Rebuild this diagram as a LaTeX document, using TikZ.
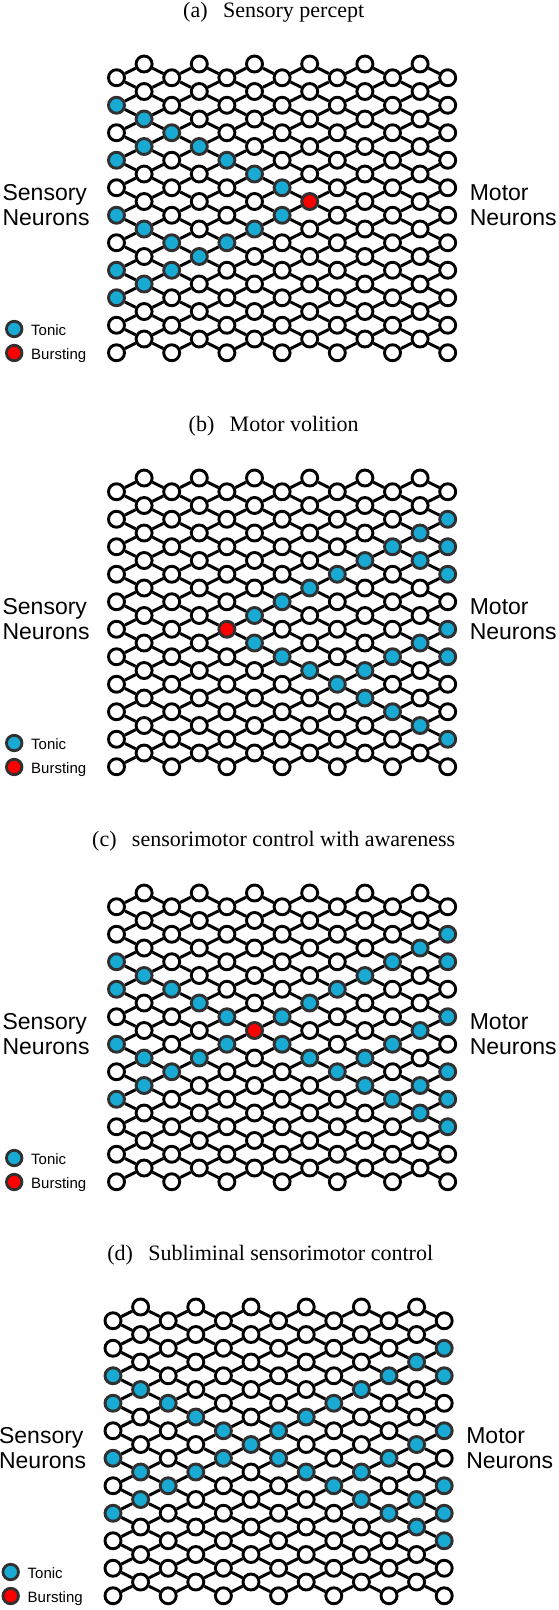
\documentclass[tikz,border=0pt]{standalone}
\usepackage{fontspec}
\setmainfont{Liberation Serif}
\setsansfont{Liberation Sans}
\usepackage{xstring}
\usepackage{tikz}
\usetikzlibrary{positioning}
\definecolor{tonicblue}{RGB}{24,170,210}
\definecolor{burstred}{RGB}{255,0,0}
\definecolor{rimgray}{RGB}{48,48,48}
\tikzset{
  neuron/.style={circle, draw=black, line width=2.9pt, fill=white, minimum size=16pt, inner sep=0pt},
  tonic/.style={neuron, draw=rimgray, fill=tonicblue},
  bursting/.style={neuron, draw=rimgray, fill=burstred},
  keydot/.style={minimum size=15.5pt, line width=2.8pt},
  synapse/.style={line width=3pt, black},
  caption/.style={font=\fontsize{22}{26}\selectfont, anchor=base, inner sep=0pt},
  side/.style={font=\sffamily\fontsize{23}{24.5}\selectfont, align=left, anchor=base west, inner sep=0pt},
  keytext/.style={font=\sffamily\fontsize{15}{18}\selectfont, anchor=base west, inner sep=0pt}
}
\newcommand{\network}[6]{%
  \begin{scope}[shift={(#2,#3)}]
    \node[caption] (#1-title) at (273.7,17.5) {#4};
    \node[side] (#1-sensory) at (2.4,225) {Sensory\\Neurons};
    \node[side] (#1-motor) at (469.6,225) {Motor\\Neurons};
    % Legend
    \node[tonic, keydot] (#1-tonicdot) at (14.2,329) {};
    \node[keytext] (#1-tonic) at (31,335.5) {Tonic};
    \node[bursting, keydot] (#1-burstdot) at (14.2,353) {};
    \node[keytext] (#1-burst) at (31,359.5) {Bursting};
    % Lattice
    \foreach \c in {0,...,12} {
      \ifodd\c\relax \def\hlist{0,2,...,20}\else \def\hlist{1,3,...,21}\fi
      \foreach \h in \hlist {
        \IfSubStr{,#5,}{,\c-\h,}{\def\kind{tonic}}{%
          \IfSubStr{,#6,}{,\c-\h,}{\def\kind{bursting}}{\def\kind{neuron}}}
        \node[\kind] (#1-\c-\h) at ({116.5+27.6*\c},{64+13.75*\h}) {};
      }
    }
    % Synapses
    \foreach \c in {1,3,...,11} {
      \pgfmathtruncatemacro{\cl}{\c-1}
      \pgfmathtruncatemacro{\cr}{\c+1}
      \foreach \h in {0,2,...,20} {
        \pgfmathtruncatemacro{\hd}{\h+1}
        \pgfmathtruncatemacro{\hu}{\h-1}
        \draw[synapse] (#1-\cl-\hd) -- (#1-\c-\h) -- (#1-\cr-\hd);
        \ifnum\h>0 \draw[synapse] (#1-\cl-\hu) -- (#1-\c-\h) -- (#1-\cr-\hu);\fi
      }
    }
  \end{scope}
}

\begin{document}
\begin{tikzpicture}[x=1pt, y=-1pt]
  \useasboundingbox (0,0) rectangle (558,1610);

  % (a)
  \network{a}{0}{0}{(a)\hspace{0.7em}Sensory percept}
    {0-3,1-4,2-5,1-6,3-6,0-7,4-7,5-8,6-9,0-11,6-11,1-12,5-12,2-13,4-13,3-14,0-15,2-15,1-16,0-17}
    {7-10}

  % (b)
  \network{b}{0}{414}{(b)\hspace{0.7em}Motor volition}
    {12-3,11-4,10-5,12-5,9-6,11-6,8-7,12-7,7-8,6-9,5-10,12-11,5-12,11-12,6-13,10-13,12-13,7-14,9-14,8-15,9-16,10-17,11-18,12-19}
    {4-11}

  % (c)
  \network{c}{0}{829}{(c)\hspace{0.7em}sensorimotor control with awareness}
    {12-3,11-4,0-5,10-5,12-5,1-6,9-6,0-7,2-7,8-7,3-8,7-8,4-9,6-9,12-9,11-10,0-11,4-11,6-11,10-11,1-12,3-12,7-12,9-12,2-13,8-13,12-13,1-14,9-14,11-14,0-15,10-15,12-15,11-16,12-17}
    {5-10}

  % (d)
  \network{d}{-3.5}{1243}{(d)\hspace{0.7em}Subliminal sensorimotor control}
    {12-3,11-4,0-5,10-5,12-5,1-6,9-6,0-7,2-7,8-7,3-8,7-8,4-9,6-9,12-9,5-10,11-10,0-11,4-11,6-11,10-11,1-12,3-12,7-12,9-12,2-13,8-13,12-13,1-14,9-14,11-14,0-15,10-15,12-15,11-16,12-17}
    {}
\end{tikzpicture}
\end{document}
